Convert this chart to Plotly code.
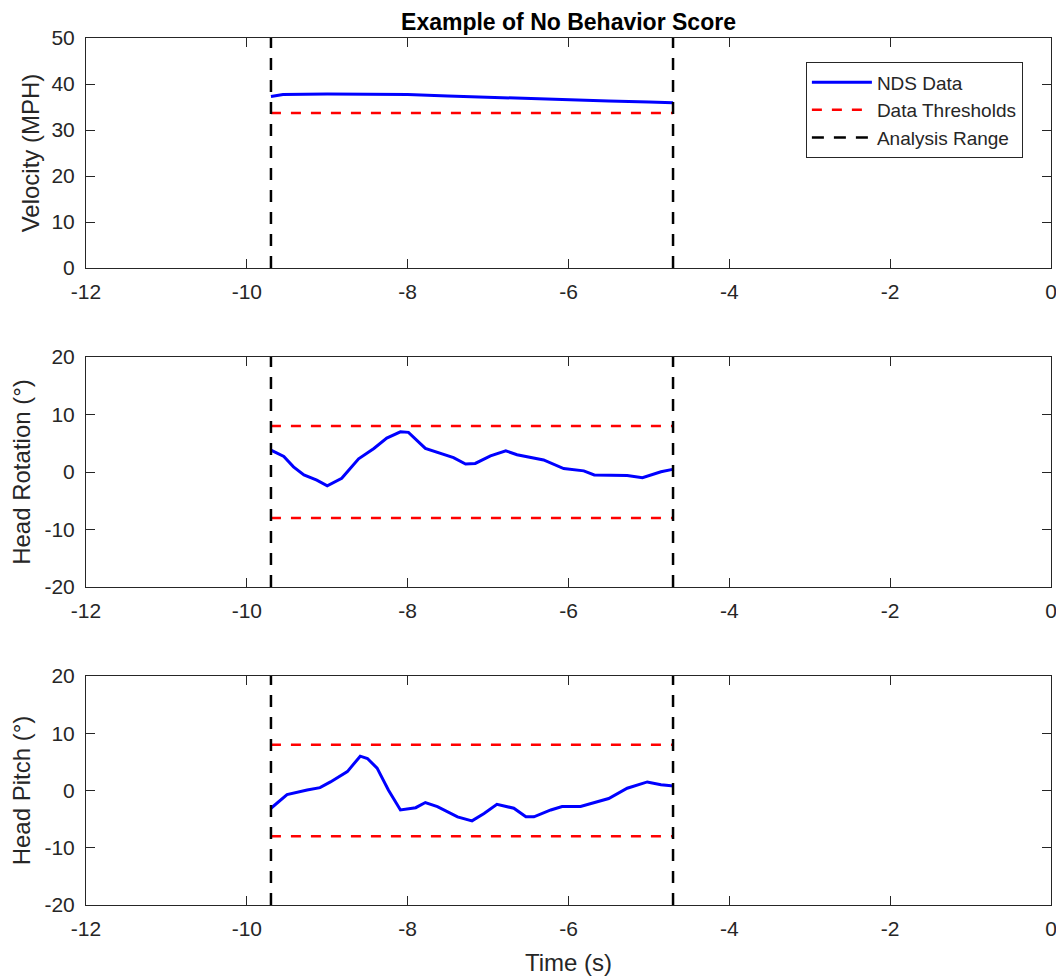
import plotly.graph_objects as go

# ---- data ----
t_start, t_end = -9.7, -4.7

vel_t = [-9.7, -9.55, -9.0, -8.5, -8.0, -7.5, -7.0, -6.5, -6.0, -5.5, -5.0, -4.7]
vel_v = [37.3, 37.7, 37.8, 37.8, 37.7, 37.4, 37.1, 36.8, 36.6, 36.3, 36.1, 35.9]
vel_thr = [33.7]

rot_t = [-9.7, -9.54, -9.42, -9.29, -9.13, -9.0, -8.82, -8.61, -8.42, -8.26, -8.09, -7.99,
         -7.78, -7.59, -7.43, -7.28, -7.16, -6.97, -6.78, -6.64, -6.31, -6.06, -5.81, -5.68,
         -5.27, -5.08, -4.85, -4.69]
rot_v = [3.8, 2.7, 0.9, -0.5, -1.4, -2.4, -1.1, 2.3, 4.1, 5.9, 7.0, 6.9,
         4.1, 3.2, 2.5, 1.4, 1.5, 2.8, 3.7, 3.0, 2.1, 0.6, 0.2, -0.5,
         -0.6, -1.0, 0.05, 0.5]
rot_thr = [-8, 8]

pit_t = [-9.7, -9.5, -9.25, -9.09, -8.96, -8.75, -8.59, -8.5, -8.38, -8.24, -8.09, -7.9,
         -7.78, -7.63, -7.38, -7.2, -7.05, -6.89, -6.68, -6.53, -6.43, -6.22, -6.08, -5.85,
         -5.5, -5.27, -5.02, -4.85, -4.69]
pit_v = [-3.1, -0.7, 0.1, 0.5, 1.5, 3.3, 6.0, 5.6, 3.9, 0.1, -3.4, -3.0,
         -2.1, -2.8, -4.6, -5.3, -4.0, -2.4, -3.1, -4.6, -4.6, -3.4, -2.8, -2.8,
         -1.4, 0.4, 1.5, 1.0, 0.8]
pit_thr = [-8, 8]

x_ticks = [-12, -10, -8, -6, -4, -2, 0]
vel_ticks = [0, 10, 20, 30, 40, 50]
head_ticks = [-20, -10, 0, 10, 20]

panels = [
    ("Velocity (MPH)", vel_t, vel_v, vel_thr, [0, 50], vel_ticks),
    ("Head Rotation (°)", rot_t, rot_v, rot_thr, [-20, 20], head_ticks),
    ("Head Pitch (°)", pit_t, pit_v, pit_thr, [-20, 20], head_ticks),
]

FONT = "Liberation Sans, Arial, Helvetica, sans-serif"
AX = "#262626"
domains = [[0.7347, 1.0], [0.3668, 0.632], [0.0, 0.2641]]
ystand = [5, 9, 9]

fig = go.Figure()
for i, (ylab, tt, vv, thr, yr, yt) in enumerate(panels):
    n = "" if i == 0 else str(i + 1)
    xa, ya = "x" + n, "y" + n
    first = i == 0
    fig.add_trace(go.Scatter(x=tt, y=vv, mode="lines", name="NDS Data",
                             line=dict(color="#0000ff", width=3),
                             xaxis=xa, yaxis=ya, showlegend=first))
    tx, ty = [], []
    for th in thr:
        tx += [t_start, t_end, None]
        ty += [th, th, None]
    fig.add_trace(go.Scatter(x=tx, y=ty, mode="lines", name="Data Thresholds",
                             line=dict(color="#ff0000", width=2.5, dash="10px,10px"),
                             xaxis=xa, yaxis=ya, showlegend=first))
    fig.add_trace(go.Scatter(x=[t_start, t_start, None, t_end, t_end],
                             y=[yr[0], yr[1], None, yr[0], yr[1]], mode="lines",
                             name="Analysis Range",
                             line=dict(color="#000000", width=2.5, dash="12px,10px"),
                             xaxis=xa, yaxis=ya, showlegend=first))
    common = dict(showline=True, linecolor=AX, linewidth=1, mirror="allticks",
                  ticks="inside", ticklen=9, tickcolor=AX, showgrid=False, zeroline=False,
                  tickfont=dict(family=FONT, size=21, color=AX))
    fig.update_layout(**{
        ("xaxis" + n): dict(common, range=[-12, 0], tickvals=x_ticks,
                            ticktext=[str(v) for v in x_ticks], anchor=ya,
                            ticklabelstandoff=5,
                            title=dict(text="Time (s)" if i == 2 else "",
                                       font=dict(family=FONT, size=24, color=AX),
                                       standoff=14)),
        ("yaxis" + n): dict(common, range=yr, tickvals=yt,
                            ticktext=[str(v) for v in yt], domain=domains[i], anchor=xa,
                            ticklabelstandoff=6,
                            title=dict(text=ylab, font=dict(family=FONT, size=24, color=AX),
                                       standoff=ystand[i])),
    })

fig.update_layout(
    width=1064, height=980,
    margin=dict(l=78, r=21, t=30, b=83),
    paper_bgcolor="white", plot_bgcolor="white",
    font=dict(family=FONT, color=AX),
    title=dict(text="<b>Example of No Behavior Score</b>", x=0.5, xanchor="center",
               xref="paper", y=0.986, yanchor="middle",
               font=dict(family=FONT, size=23, color="#000000")),
    legend=dict(x=0.746, y=0.972, xanchor="left", yanchor="top",
                bordercolor=AX, borderwidth=1, bgcolor="white",
                font=dict(family=FONT, size=19, color=AX), tracegroupgap=0,
                itemwidth=60),
)

fig.write_html("out.html")
